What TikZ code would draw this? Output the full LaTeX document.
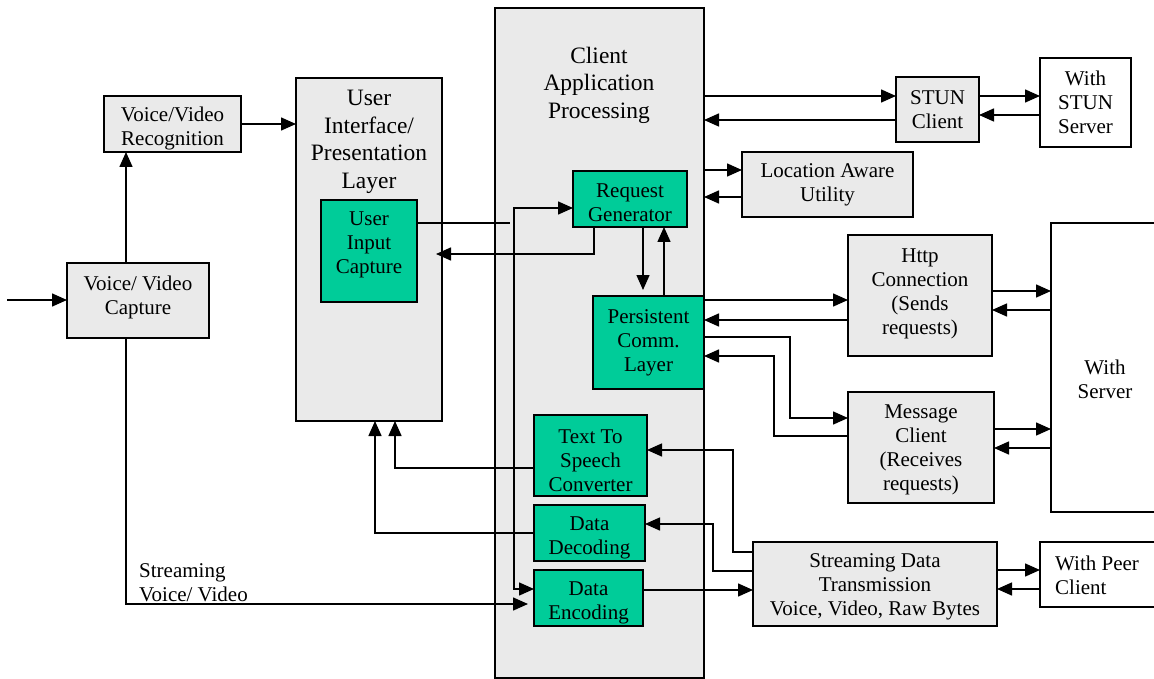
\documentclass[tikz,border=0pt]{standalone}
\usepackage{fontspec}
\setmainfont{Liberation Serif}
\usetikzlibrary{arrows.meta}
\definecolor{grn}{RGB}{0,204,153}
\definecolor{lgr}{RGB}{234,234,234}
\begin{document}
\begin{tikzpicture}[x=1pt,y=-1pt,
  base/.style={draw=black, line width=1.6pt, inner sep=0pt, outer sep=0pt},
  gbox/.style={base, fill=lgr},
  cbox/.style={base, fill=grn},
  wbox/.style={base, fill=white},
  txt/.style={font=\fontsize{21}{24}\selectfont, align=center, inner sep=0pt},
  ttl/.style={font=\fontsize{23.5}{27.5}\selectfont, align=center, inner sep=0pt},
  arr/.style={line width=1.5pt, -{Triangle[length=15pt,width=13pt]}},
  ln/.style={line width=1.5pt}]
\useasboundingbox (0,0) rectangle (1154,679);
% big boxes
\node[gbox, minimum width=209pt, minimum height=670pt] (client) at (599.5,343) {};
\node[ttl] (clientt) at (599,85) {Client\\Application\\Processing};
\node[gbox, minimum width=146pt, minimum height=343pt] (ui) at (369,249.5) {};
\node[ttl] (uit) at (369,142) {User\\Interface/\\Presentation\\Layer};
% left boxes
\node[gbox, minimum width=137pt, minimum height=56pt, label={[txt,yshift=-4pt]center:Voice/Video\\Recognition}] (rec) at (172.5,124) {};
\node[gbox, minimum width=142pt, minimum height=75pt, label={[txt,yshift=3pt]center:Voice/ Video\\Capture}] (vcap) at (138,300.5) {};
% green boxes
\node[cbox, minimum width=96pt, minimum height=102pt, label={[txt,yshift=6pt]center:User\\Input\\Capture}] (uic) at (369,251) {};
\node[cbox, minimum width=114pt, minimum height=56pt, label={[txt,yshift=-4pt]center:Request\\Generator}] (rg) at (630,199) {};
\node[cbox, minimum width=111pt, minimum height=93pt, label={[txt]center:Persistent\\Comm.\\Layer}] (pcl) at (648.5,342.5) {};
\node[cbox, minimum width=113pt, minimum height=81pt, label={[txt,yshift=-5pt]center:Text To\\Speech\\Converter}] (tts) at (590.5,455.5) {};
\node[cbox, minimum width=111pt, minimum height=56pt, label={[txt,yshift=-5pt]center:Data\\Decoding}] (dec) at (589.5,533) {};
\node[cbox, minimum width=109pt, minimum height=56pt, label={[txt,yshift=-5pt]center:Data\\Encoding}] (enc) at (588.5,598) {};
% right boxes
\node[gbox, minimum width=83pt, minimum height=65pt, label={[txt]center:STUN\\Client}] (stun) at (937.5,109.5) {};
\node[wbox, minimum width=91pt, minimum height=89pt, label={[txt]center:With\\STUN\\Server}] (stuns) at (1085.5,102.5) {};
\node[gbox, minimum width=171pt, minimum height=65pt, label={[txt]center:Location Aware\\Utility}] (loc) at (827.5,184.5) {};
\node[gbox, minimum width=144pt, minimum height=121pt, label={[txt,yshift=2pt]center:Http\\Connection\\(Sends\\requests)}] (http) at (920,295.5) {};
\node[gbox, minimum width=146pt, minimum height=111pt, label={[txt,yshift=-2pt]center:Message\\Client\\(Receives\\requests)}] (msg) at (921,447.5) {};
\node[wbox, minimum width=120pt, minimum height=289pt] (srv) at (1111,367.5) {};
\node[txt] (srvt) at (1105,379) {With\\Server};
\node[gbox, minimum width=244pt, minimum height=84pt, label={[txt,yshift=-3pt]center:Streaming Data\\Transmission\\Voice, Video, Raw Bytes}] (stream) at (875,584) {};
\node[wbox, minimum width=130pt, minimum height=65pt] (peer) at (1105,574.5) {};
\node[txt, align=left, anchor=west] (peert) at (1055,575) {With Peer\\Client};
% left connectors
\coordinate (in) at (7,300);
\draw[arr] (in) -- (vcap.west |- in);
\draw[arr] (vcap.north -| 126,0) -- (rec.south -| 126,0);
\draw[arr] (rec.east) -- (ui.west |- rec.east);
\draw[arr, shorten >=6pt] (vcap.south -| 126,0) |- (enc.west |- 0,604);
\node[txt, align=left, anchor=west] (strl) at (139,583) {Streaming\\Voice/ Video};
% user input capture to request generator / encoding
\draw[ln] (uic.east |- 0,223) -- (510,223);
\coordinate (j) at (514,223);
\draw[arr] (j) |- (rg.west |- 0,208);
\draw[arr] (j) |- (enc.west |- 0,589);
\draw[arr, shorten >=19pt] (rg.south -| 594,0) |- (uic.east |- 0,254);
\draw[arr, shorten >=6pt] (rg.south -| 643,0) -- (pcl.north -| 643,0);
\draw[arr] (pcl.north -| 664,0) -- (rg.south -| 664,0);
% stun
\draw[arr] (client.east |- 0,96) -- (stun.west |- 0,96);
\draw[arr] (stun.west |- 0,120) -- (client.east |- 0,120);
\draw[arr] (stun.east |- 0,96) -- (stuns.west |- 0,96);
\draw[arr] (stuns.west |- 0,115) -- (stun.east |- 0,115);
% location
\draw[arr] (client.east |- 0,170) -- (loc.west |- 0,170);
\draw[arr] (loc.west |- 0,197) -- (client.east |- 0,197);
% http
\draw[arr] (pcl.east |- 0,300) -- (http.west |- 0,300);
\draw[arr] (http.west |- 0,320) -- (pcl.east |- 0,320);
\draw[arr] (http.east |- 0,291) -- (srv.west |- 0,291);
\draw[arr] (srv.west |- 0,310) -- (http.east |- 0,310);
% message
\draw[arr] (pcl.east |- 0,337) -| (790,418) -- (msg.west |- 0,418);
\draw[arr] (msg.west |- 0,436) -| (774,356) -- (pcl.east |- 0,356);
\draw[arr] (msg.east |- 0,429) -- (srv.west |- 0,429);
\draw[arr] (srv.west |- 0,448) -- (msg.east |- 0,448);
% streaming
\draw[arr] (stream.west |- 0,552) -| (733,450) -- (tts.east |- 0,450);
\draw[arr] (stream.west |- 0,571) -| (713,524) -- (dec.east |- 0,524);
\draw[arr] (enc.east |- 0,590) -- (stream.west |- 0,590);
\draw[arr] (stream.east |- 0,570) -- (peer.west |- 0,570);
\draw[arr] (peer.west |- 0,589) -- (stream.east |- 0,589);
% to UI
\draw[arr] (tts.west |- 0,468) -| (ui.south -| 395,0);
\draw[arr] (dec.west |- 0,533) -| (ui.south -| 375,0);
\end{tikzpicture}
\end{document}
